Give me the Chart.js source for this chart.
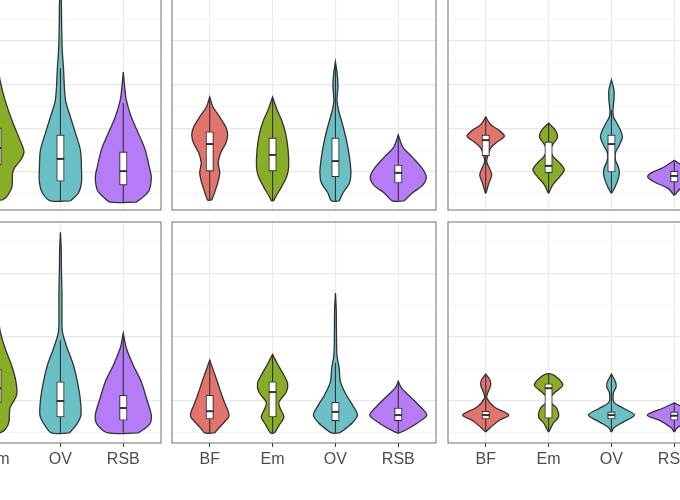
<!DOCTYPE html>
<html>
<head>
<meta charset="utf-8">
<script src="https://cdn.jsdelivr.net/npm/chart.js@4.4.1/dist/chart.umd.min.js"></script>
<style>
  html, body { margin: 0; padding: 0; background: #fff; }
  body { width: 680px; height: 500px; position: relative; overflow: hidden; }
  canvas { position: absolute; }
</style>
</head>
<body>
<script>
// categories on every panel
const categories = ['BF', 'Em', 'OV', 'RSB'];
const colors = ['#E3736D', '#8AAD28', '#6BC0C5', '#B67BF7'];

// y gridlines (no labels visible in the crop)
const topMajor = [1, 2, 3, 4];
const topMinor = [0.5, 1.5, 2.5, 3.5, 4.5, 5];
const bottomMajor = [1, 2, 3];
const bottomMinor = [0.5, 1.5, 2.5, 3.5];

// violin outlines: y levels and half widths (category units), per category
// top row, left panel (BF is outside the crop)
const t1Y = [null,
  [0.36, 0.43, 0.66, 0.98, 1.11, 1.27, 1.46, 1.73, 2.12, 2.65, 3.11, 3.34, 3.52],
  [0.34, 0.52, 0.75, 1.11, 1.50, 1.89, 2.26, 2.65, 3.40, 3.79, 4.37, 4.94, 4.96],
  [0.31, 0.43, 0.59, 0.89, 1.11, 1.50, 1.89, 2.26, 2.65, 2.99, 3.29]];
const t1W = [null,
  [0.080, 0.143, 0.229, 0.239, 0.277, 0.366, 0.420, 0.356, 0.245, 0.118, 0.038, 0.016, 0],
  [0.159, 0.286, 0.334, 0.334, 0.318, 0.239, 0.159, 0.080, 0.048, 0.029, 0.019, 0.013, 0],
  [0.207, 0.318, 0.414, 0.445, 0.414, 0.350, 0.239, 0.127, 0.048, 0.019, 0]];
const t1Lo = [null, 0.36, 0.34, 0.31];
const t1Q1 = [null, 1.16, 0.79, 0.70];
const t1Med = [null, 1.55, 1.30, 1.02];
const t1Q3 = [null, 2.01, 1.85, 1.46];
const t1Hi = [null, 3.11, 3.38, 2.58];

// top row, middle panel
const t2Y = [
  [0.36, 0.54, 0.75, 0.98, 1.21, 1.44, 1.66, 1.85, 2.03, 2.26, 2.49, 2.72],
  [0.34, 0.43, 0.66, 0.89, 1.11, 1.50, 1.89, 2.19, 2.42, 2.72],
  [0.34, 0.52, 0.75, 0.98, 1.34, 1.73, 2.12, 2.42, 2.65, 2.95, 3.27, 3.52],
  [0.34, 0.52, 0.70, 0.89, 1.11, 1.34, 1.57, 1.85]];
const t2W = [
  [0.032, 0.080, 0.127, 0.159, 0.135, 0.175, 0.255, 0.286, 0.255, 0.159, 0.052, 0],
  [0.016, 0.048, 0.143, 0.223, 0.255, 0.247, 0.207, 0.143, 0.072, 0],
  [0.064, 0.119, 0.223, 0.247, 0.223, 0.175, 0.107, 0.048, 0.024, 0.040, 0.027, 0],
  [0.095, 0.223, 0.390, 0.445, 0.366, 0.223, 0.072, 0]];
const t2Lo = [0.36, 0.34, 0.34, 0.34];
const t2Q1 = [1.02, 1.02, 0.89, 0.75];
const t2Med = [1.64, 1.39, 1.25, 0.98];
const t2Q3 = [1.92, 1.78, 1.78, 1.16];
const t2Hi = [2.70, 2.70, 3.50, 1.85];

// top row, right panel
const t3Y = [
  [0.52, 0.75, 0.93, 1.11, 1.23, 1.34, 1.55, 1.69, 1.82, 1.96, 2.08, 2.26],
  [0.52, 0.70, 0.89, 1.05, 1.21, 1.34, 1.50, 1.66, 1.80, 1.96, 2.12],
  [0.52, 0.63, 0.82, 0.98, 1.11, 1.27, 1.44, 1.62, 1.80, 1.96, 2.14, 2.26, 2.42, 2.65, 2.88, 3.11],
  [0.47, 0.63, 0.77, 0.89, 0.98, 1.11, 1.27]];
const t3W = [
  [0.005, 0.052, 0.095, 0.052, 0.016, 0.027, 0.080, 0.186, 0.297, 0.207, 0.080, 0],
  [0.005, 0.064, 0.175, 0.250, 0.175, 0.080, 0.032, 0.080, 0.143, 0.107, 0],
  [0.005, 0.048, 0.103, 0.127, 0.111, 0.064, 0.064, 0.127, 0.175, 0.143, 0.080, 0.032, 0.024, 0.040, 0.040, 0],
  [0.005, 0.105, 0.318, 0.423, 0.366, 0.169, 0]];
const t3Lo = [0.52, 0.52, 0.52, 0.47];
const t3Q1 = [1.37, 0.98, 1.00, 0.77];
const t3Med = [1.73, 1.14, 1.64, 0.91];
const t3Q3 = [1.85, 1.69, 1.85, 1.02];
const t3Hi = [2.26, 2.12, 2.42, 1.27];

// bottom row, left panel
const b1Y = [null,
  [0.50, 0.55, 0.67, 0.89, 1.09, 1.30, 1.56, 1.83, 2.11, 2.34, 2.50],
  [0.50, 0.63, 0.78, 1.05, 1.30, 1.56, 1.83, 2.08, 2.42, 2.70, 3.05, 3.36, 3.64],
  [0.50, 0.63, 0.78, 1.05, 1.30, 1.56, 1.83, 2.06]];
const b1W = [null,
  [0.032, 0.118, 0.181, 0.197, 0.302, 0.293, 0.223, 0.118, 0.038, 0.016, 0],
  [0.143, 0.255, 0.326, 0.313, 0.270, 0.207, 0.107, 0.032, 0.024, 0.024, 0.016, 0.013, 0],
  [0.239, 0.414, 0.445, 0.366, 0.286, 0.159, 0.048, 0]];
const b1Lo = [null, 0.50, 0.50, 0.50];
const b1Q1 = [null, 0.97, 0.75, 0.70];
const b1Med = [null, 1.20, 1.00, 0.89];
const b1Q3 = [null, 1.50, 1.30, 1.09];
const b1Hi = [null, 2.11, 1.95, 2.06];

// bottom row, middle panel
const b2Y = [
  [0.50, 0.55, 0.66, 0.75, 0.83, 0.98, 1.14, 1.30, 1.45, 1.64],
  [0.50, 0.63, 0.75, 0.89, 0.98, 1.14, 1.28, 1.44, 1.59, 1.73],
  [0.50, 0.55, 0.66, 0.78, 0.94, 1.09, 1.30, 1.52, 1.72, 2.11, 2.42, 2.69],
  [0.50, 0.55, 0.66, 0.78, 0.91, 1.06, 1.20, 1.31]];
const b2W = [
  [0.080, 0.122, 0.223, 0.302, 0.297, 0.234, 0.175, 0.122, 0.068, 0],
  [0.032, 0.111, 0.180, 0.119, 0.100, 0.218, 0.239, 0.159, 0.072, 0],
  [0.064, 0.138, 0.270, 0.350, 0.270, 0.175, 0.080, 0.059, 0.024, 0.016, 0.013, 0],
  [0.016, 0.124, 0.310, 0.453, 0.350, 0.199, 0.052, 0]];
const b2Lo = [0.50, 0.50, 0.50, 0.50];
const b2Q1 = [0.72, 0.75, 0.69, 0.69];
const b2Med = [0.84, 1.14, 0.83, 0.78];
const b2Q3 = [1.09, 1.30, 0.98, 0.89];
const b2Hi = [1.64, 1.73, 1.60, 1.31];

// bottom row, right panel
const b3Y = [
  [0.52, 0.59, 0.70, 0.78, 0.91, 1.05, 1.14, 1.25, 1.33, 1.42],
  [0.52, 0.66, 0.75, 0.89, 0.98, 1.06, 1.14, 1.25, 1.36, 1.42],
  [0.52, 0.58, 0.67, 0.78, 0.89, 0.98, 1.13, 1.22, 1.30, 1.42],
  [0.52, 0.58, 0.70, 0.78, 0.89, 0.97]];
const b3W = [
  [0.005, 0.080, 0.218, 0.366, 0.132, 0.016, 0.037, 0.080, 0.068, 0],
  [0.005, 0.080, 0.159, 0.127, 0.032, 0.032, 0.107, 0.227, 0.143, 0.048],
  [0.005, 0.040, 0.186, 0.366, 0.186, 0.040, 0.032, 0.075, 0.064, 0],
  [0.005, 0.048, 0.239, 0.430, 0.175, 0]];
const b3Lo = [0.52, 0.52, 0.52, 0.52];
const b3Q1 = [0.72, 0.73, 0.72, 0.70];
const b3Med = [0.78, 1.20, 0.78, 0.77];
const b3Q3 = [0.84, 1.27, 0.83, 0.83];
const b3Hi = [1.42, 1.42, 1.42, 0.97];

Chart.defaults.font.family = '"Liberation Sans", Arial, Helvetica, sans-serif';
Chart.defaults.animation = false;

const colLeft = [-103, 172, 447.5];
const rowTop = [-11, 222];
const panelW = 264, panelH = 221, pad = 2, axisH = 30;
const rowRange = [[0.13, 5.19], [0.343, 3.80]];

const panels = [
  { row: 0, col: 0, ys: t1Y, ws: t1W, lo: t1Lo, q1: t1Q1, med: t1Med, q3: t1Q3, hi: t1Hi },
  { row: 0, col: 1, ys: t2Y, ws: t2W, lo: t2Lo, q1: t2Q1, med: t2Med, q3: t2Q3, hi: t2Hi },
  { row: 0, col: 2, ys: t3Y, ws: t3W, lo: t3Lo, q1: t3Q1, med: t3Med, q3: t3Q3, hi: t3Hi },
  { row: 1, col: 0, ys: b1Y, ws: b1W, lo: b1Lo, q1: b1Q1, med: b1Med, q3: b1Q3, hi: b1Hi },
  { row: 1, col: 1, ys: b2Y, ws: b2W, lo: b2Lo, q1: b2Q1, med: b2Med, q3: b2Q3, hi: b2Hi },
  { row: 1, col: 2, ys: b3Y, ws: b3W, lo: b3Lo, q1: b3Q1, med: b3Med, q3: b3Q3, hi: b3Hi }
];

// closed outline: up the right side, down the left side
function violinPoints(c, ys, ws) {
  const right = ys.map((y, i) => ({ x: c + ws[i], y: y }));
  const left = ys.map((y, i) => ({ x: c - ws[i], y: y })).reverse();
  return right.concat(left, [right[0]]);
}

const panelBorder = {
  id: 'panelBorder',
  afterDraw(chart) {
    const { ctx, chartArea: a } = chart;
    ctx.save();
    ctx.strokeStyle = '#6f6f6f';
    ctx.lineWidth = 1;
    ctx.strokeRect(a.left, a.top, a.right - a.left, a.bottom - a.top);
    ctx.restore();
  }
};

function makePanel(p) {
  const bottom = p.row === 1;
  const canvas = document.createElement('canvas');
  canvas.width = panelW + 2 * pad;
  canvas.height = panelH + 2 * pad + (bottom ? axisH - pad : 0);
  canvas.style.left = (colLeft[p.col] - pad) + 'px';
  canvas.style.top = (rowTop[p.row] - pad) + 'px';
  document.body.appendChild(canvas);

  const major = bottom ? bottomMajor : topMajor;
  const minor = bottom ? bottomMinor : topMinor;
  const yTicks = major.concat(minor).sort((a, b) => a - b);

  const datasets = [];
  const whiskers = [], boxes = [], medians = [];
  categories.forEach((name, i) => {
    if (!p.ys[i]) return;
    datasets.push({
      type: 'scatter',
      data: violinPoints(i + 1, p.ys[i], p.ws[i]),
      showLine: true,
      fill: 'shape',
      backgroundColor: colors[i],
      borderColor: '#333333',
      borderWidth: 1.3,
      tension: 0.3,
      pointRadius: 0,
      order: 4
    });
    whiskers.push({ x: i + 1, y: p.lo[i] }, { x: i + 1, y: p.hi[i] }, { x: i + 1, y: null });
    boxes.push({ x: i + 1, y: [p.q1[i], p.q3[i]] });
    medians.push({ x: i + 1, y: p.med[i] });
  });
  datasets.push({
    type: 'scatter', data: whiskers, showLine: true, spanGaps: false,
    borderColor: '#333333', borderWidth: 1.1, pointRadius: 0, order: 3
  });
  datasets.push({
    type: 'bar', data: boxes, barThickness: 7.5,
    backgroundColor: '#ffffff', borderColor: '#333333', borderWidth: 1.1,
    borderSkipped: false, order: 2
  });
  datasets.push({
    type: 'scatter', data: medians, pointStyle: 'line', pointRadius: 3.7,
    pointBorderWidth: 2, pointBorderColor: '#333333', order: 1
  });

  new Chart(canvas, {
    type: 'scatter',
    data: { datasets: datasets },
    options: {
      responsive: false,
      layout: { autoPadding: false, padding: { left: pad, right: pad, top: pad, bottom: bottom ? 0 : pad } },
      plugins: { legend: { display: false }, tooltip: { enabled: false } },
      scales: {
        x: {
          type: 'linear', min: 0.4, max: 4.6, offset: false,
          border: { display: false },
          grid: {
            offset: false, color: '#ebebeb', lineWidth: 1.1,
            drawTicks: bottom, tickLength: 4, tickColor: '#333333', tickWidth: 1
          },
          ticks: {
            display: bottom, autoSkip: false, maxRotation: 0, padding: 3,
            color: '#4d4d4d', font: { size: 16 },
            callback: v => categories[v - 1] || ''
          },
          afterBuildTicks: s => { s.ticks = categories.map((c, i) => ({ value: i + 1 })); },
          afterFit: s => { s.height = bottom ? axisH : 0; }
        },
        y: {
          type: 'linear', min: rowRange[p.row][0], max: rowRange[p.row][1],
          border: { display: false },
          grid: {
            drawTicks: false,
            color: c => (c.tick && major.includes(c.tick.value)) ? '#e8e8e8' : '#f1f1f1',
            lineWidth: c => (c.tick && major.includes(c.tick.value)) ? 1.2 : 0.8
          },
          ticks: { display: false },
          afterBuildTicks: s => { s.ticks = yTicks.map(v => ({ value: v })); },
          afterFit: s => { s.width = 0; }
        }
      }
    },
    plugins: [panelBorder]
  });
}

panels.forEach(makePanel);
</script>
</body>
</html>
